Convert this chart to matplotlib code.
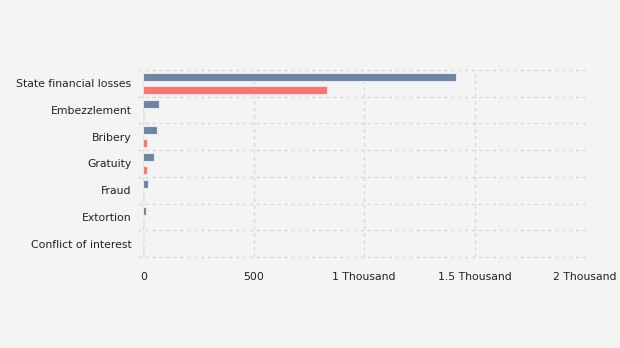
import matplotlib
matplotlib.use("Agg")
import matplotlib.pyplot as plt
import numpy as np

categories = ["State financial losses", "Embezzlement", "Bribery", "Gratuity",
              "Fraud", "Extortion", "Conflict of interest"]
series_a = [1416, 71, 62, 48, 21, 11, 3]
series_b = [830, 3, 15, 15, 3, 3, 3]
x_ticks = [0, 500, 1000, 1500, 2000]
x_tick_labels = ["0", "500", "1 Thousand", "1.5 Thousand", "2 Thousand"]

bg = "#f4f4f4"
fig = plt.figure(figsize=(6.2, 3.48), dpi=100, facecolor=bg)
ax = fig.add_axes([0.2311, 0.2615, 0.7124, 0.5374], facecolor=bg)

n = len(categories)
y = np.arange(n)
h = 0.30
off = 0.24
ax.barh(y - off, series_a, height=h, color="#6e84a0", edgecolor="#e6e9ee", linewidth=0.8, zorder=3)
ax.barh(y + off, series_b, height=h, color="#fa7474", edgecolor="#f4dede", linewidth=0.8, zorder=3)

ax.set_ylim(n - 0.5, -0.5)
ax.set_xlim(0, 2000)
ax.set_yticks(y)
ax.set_yticklabels(categories, fontsize=7.8, color="#222222")
ax.set_xticks(x_ticks)
ax.set_xticklabels(x_tick_labels, fontsize=7.8, color="#222222")
ax.tick_params(axis="y", length=0, pad=8.5)
ax.tick_params(axis="x", length=0, pad=11)

grid_kw = dict(color="#d9d9d9", linestyle=(0, (2.5, 2.5)), linewidth=1.0, zorder=1)
for xv in x_ticks:
    ax.axvline(xv, **grid_kw)
for b in np.arange(-0.5, n, 1.0):
    ax.axhline(b, xmin=-0.012, clip_on=False, **grid_kw)

for s in ax.spines.values():
    s.set_visible(False)

fig.savefig("out.png", dpi=100, facecolor=bg)
